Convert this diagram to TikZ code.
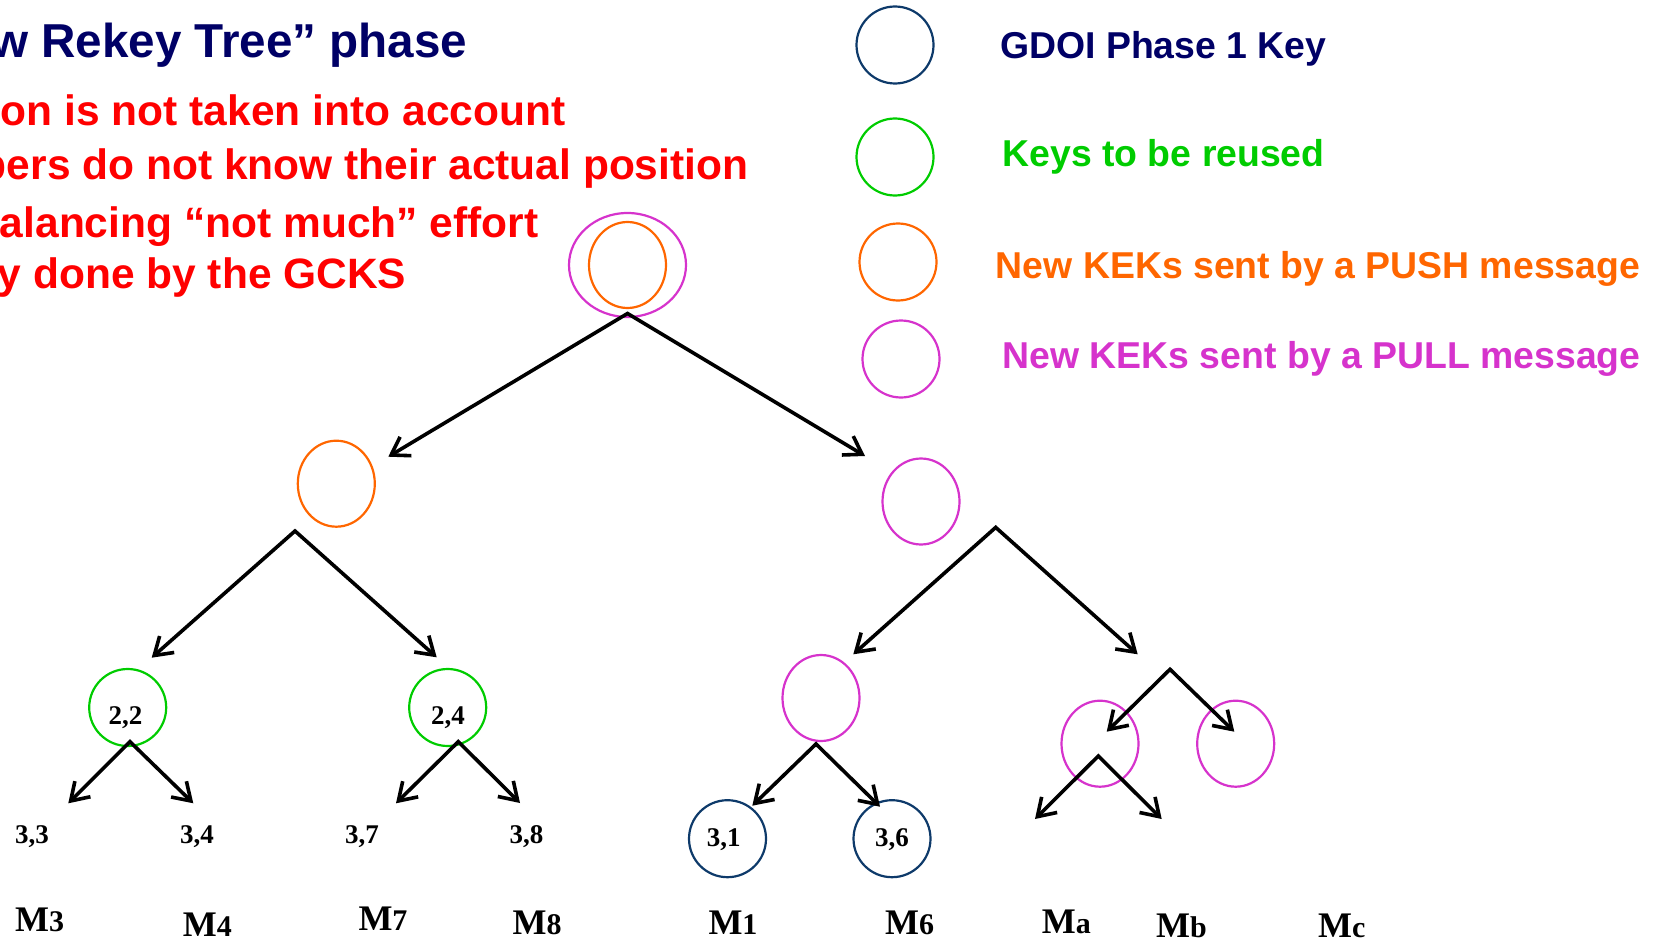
\documentclass[tikz,border=0pt]{standalone}
\usepackage{fontspec}
\setmainfont{Liberation Serif}
\newfontfamily\headsans{Liberation Sans}
\usetikzlibrary{arrows.meta, shapes.geometric}

\definecolor{titlenavy}{HTML}{000066}
\definecolor{keynavy}{HTML}{0E3A6A}
\definecolor{kred}{HTML}{FF0000}
\definecolor{kgreen}{HTML}{00CC00}
\definecolor{korange}{HTML}{FF6600}
\definecolor{kmagenta}{HTML}{D633CC}

\tikzset{
  ring/.style={ellipse, draw, line width=2.2pt, inner sep=0pt,
               minimum width=77pt, minimum height=86pt},
  disc/.style={circle, draw, line width=2.2pt, inner sep=0pt, minimum size=77pt},
  fork/.style={line width=3.6pt, line join=miter,
               {Straight Barb[length=17pt,width=22pt]}-{Straight Barb[length=17pt,width=22pt]}},
  head/.style={inner sep=0pt, anchor=base east,
               font=\headsans\bfseries\fontsize{42.5}{50}\selectfont, text=kred},
  legend/.style={inner sep=0pt, anchor=base west,
                 font=\headsans\bfseries\fontsize{37.4}{44}\selectfont},
  idx/.style={inner sep=0pt, anchor=base west,
              font=\bfseries\fontsize{27}{30}\selectfont},
  member/.style={inner sep=0pt, anchor=base west,
                 font=\bfseries\fontsize{36}{40}\selectfont},
}
\newcommand{\sub}[1]{{\fontsize{30}{30}\selectfont #1}}

\begin{document}
\begin{tikzpicture}[x=1pt, y=-1pt]
\useasboundingbox (0,0) rectangle (1654,939);

% heading and remarks
\node[head, text=titlenavy, font=\headsans\bfseries\fontsize{47.6}{55}\selectfont]
  (title) at (467.5,57.3) {w Rekey Tree” phase};
\node[head] (r1) at (565.5,126) {on is not taken into account};
\node[head] (r2) at (748.5,179) {bers do not know their actual position};
\node[head] (r3) at (538.5,237) {alancing “not much” effort};
\node[head] (r4) at (406.5,288) {y done by the GCKS};

% legend
\node[disc, draw=keynavy]  (lg1) at (895,45)  {};
\node[disc, draw=kgreen]   (lg2) at (895,157) {};
\node[disc, draw=korange]  (lg3) at (898,262) {};
\node[disc, draw=kmagenta] (lg4) at (901,359) {};
\node[legend, text=titlenavy] (lt1) at (1000,58.3)  {GDOI Phase 1 Key};
\node[legend, text=kgreen]    (lt2) at (1002.3,166.7) {Keys to be reused};
\node[legend, text=korange]   (lt3) at (995.6,278) {New KEKs sent by a PUSH message};
\node[legend, text=kmagenta]  (lt4) at (1002.3,368.3) {New KEKs sent by a PULL message};

% key tree
\node[ring, draw=kmagenta, minimum width=117pt, minimum height=104pt] (rootout) at (627.5,265) {};
\node[ring, draw=korange] (rootin) at (627.5,265) {};
\node[ring, draw=korange]  (ka) at (336.3,483.7) {};
\node[ring, draw=kmagenta] (kb) at (921,501.5) {};
\node[disc, draw=kgreen]   (k22) at (127.7,707.5) {};
\node[disc, draw=kgreen]   (k24) at (447.7,707.5) {};
\node[ring, draw=kmagenta] (ke) at (821,698) {};
\node[disc, draw=keynavy]  (k31) at (727.5,838.7) {};
\node[disc, draw=keynavy]  (k36) at (892,838.7) {};
\node[ring, draw=kmagenta] (kf) at (1100,743.7) {};
\node[ring, draw=kmagenta] (kg) at (1235.7,743.7) {};

% key indices
\node[idx] (i22) at (108.3,724) {2,2};
\node[idx] (i24) at (431,724) {2,4};
\node[idx] (i31) at (706.7,846.7) {3,1};
\node[idx] (i36) at (875,846.7) {3,6};
\node[idx] (i33) at (15,843) {3,3};
\node[idx] (i34) at (180,843) {3,4};
\node[idx] (i37) at (345,843) {3,7};
\node[idx] (i38) at (509.5,843) {3,8};

% members
\node[member] (m3) at (15,931)     {M\sub{3}};
\node[member] (m4) at (182.7,936)  {M\sub{4}};
\node[member] (m7) at (358.3,930)  {M\sub{7}};
\node[member] (m8) at (512.5,934)  {M\sub{8}};
\node[member] (m1) at (708.3,934)  {M\sub{1}};
\node[member] (m6) at (885,934)    {M\sub{6}};
\node[member] (ma) at (1041.7,933) {M\sub{a}};
\node[member] (mb) at (1156,937.5) {M\sub{b}};
\node[member] (mc) at (1318,937.5) {M\sub{c}};

% branch points and arrow ends
\coordinate (f0) at (627.5,313.5);
\coordinate (t0a) at (388.3,456.7);  \coordinate (t0b) at (865,456);
\coordinate (fa) at (295,531);
\coordinate (taa) at (151.7,657.7);  \coordinate (tab) at (436.7,657.3);
\coordinate (fb) at (995.7,527.4);
\coordinate (tba) at (853.3,654.3);  \coordinate (tbb) at (1137.7,654.3);
\coordinate (fc) at (130,741.7);
\coordinate (tca) at (68.3,803.3);   \coordinate (tcb) at (193.3,803.3);
\coordinate (fd) at (458.3,741.7);
\coordinate (tda) at (396,803.3);    \coordinate (tdb) at (520,803);
\coordinate (fe) at (816,744);
\coordinate (tea) at (752.3,805.7);  \coordinate (teb) at (880,806.7);
\coordinate (ff) at (1170,669.3);
\coordinate (tfa) at (1106.7,731.7); \coordinate (tfb) at (1234.3,731.7);
\coordinate (fg) at (1098.3,756);
\coordinate (tga) at (1035,819);     \coordinate (tgb) at (1161.7,819);

\draw[fork] (t0a) -- (f0) -- (t0b);
\draw[fork] (taa) -- (fa) -- (tab);
\draw[fork] (tba) -- (fb) -- (tbb);
\draw[fork] (tca) -- (fc) -- (tcb);
\draw[fork] (tda) -- (fd) -- (tdb);
\draw[fork] (tea) -- (fe) -- (teb);
\draw[fork] (tfa) -- (ff) -- (tfb);
\draw[fork] (tga) -- (fg) -- (tgb);
\end{tikzpicture}
\end{document}
